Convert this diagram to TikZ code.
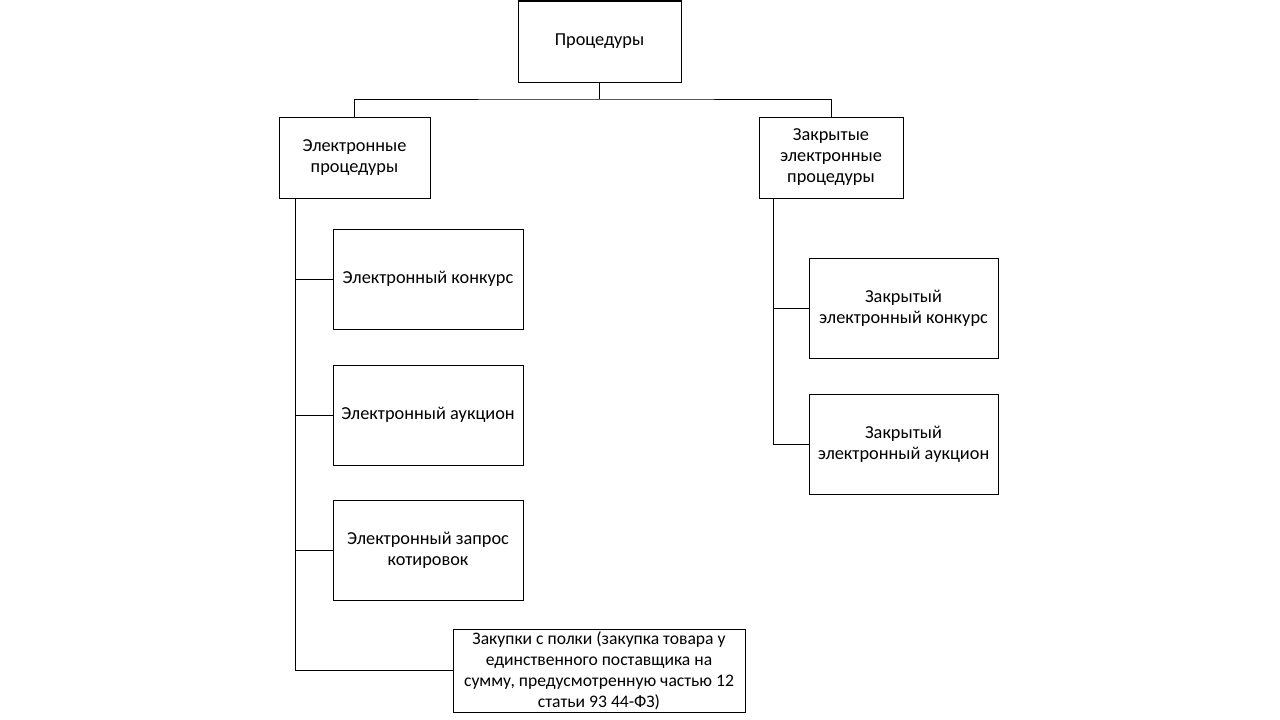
\documentclass[tikz,border=0pt]{standalone}
\usepackage{fontspec}
\setmainfont{Carlito}
\begin{document}
\begin{tikzpicture}[x=1pt,y=-1pt]
\tikzstyle{every node}+=[inner sep=0pt, font=\fontsize{18.3}{21}\selectfont]
\tikzstyle{box}=[draw=black, line width=1pt, align=center]
\useasboundingbox (0,0) rectangle (1280,720);
% top level
\node [box, minimum width=163, minimum height=81] (proc) at (599.5,41.5) {Процедуры};
\node [box, minimum width=151, minimum height=81] (el) at (354.5,157.5) {Электронные\\процедуры};
\node [box, minimum width=144, minimum height=81] (zel) at (831,157.5) {Закрытые\\электронные\\процедуры};
% left branch
\node [box, minimum width=190, minimum height=100] (ek) at (428,279) {Электронный конкурс};
\node [box, minimum width=190, minimum height=100] (ea) at (428,415) {Электронный аукцион};
\node [box, minimum width=190, minimum height=100] (ez) at (428,550) {Электронный запрос\\котировок};
\node [box, minimum width=292, minimum height=83, font=\fontsize{17.6}{21}\selectfont] (zak) at (599,670.5) {Закупки с полки (закупка товара у\\единственного поставщика на\\сумму, предусмотренную частью 12\\статьи 93 44-ФЗ)};
% right branch
\node [box, minimum width=189, minimum height=100] (zk) at (903.5,308) {Закрытый\\электронный конкурс};
\node [box, minimum width=189, minimum height=100] (za) at (903.5,444) {Закрытый\\электронный аукцион};
% connectors
\coordinate (split) at (proc.south |- 0,99);
\draw [line width=1pt] (proc.south) -- (split);
\draw [line width=1pt] (el.north) |- (split) -| (zel.north);
\draw [line width=1pt] ([xshift=-59.5]el.south) |- (ek.west);
\draw [line width=1pt] ([xshift=-59.5]el.south) |- (ea.west);
\draw [line width=1pt] ([xshift=-59.5]el.south) |- (ez.west);
\draw [line width=1pt] ([xshift=-59.5]el.south) |- (zak.west);
\draw [line width=1pt] ([xshift=-58]zel.south) |- (zk.west);
\draw [line width=1pt] ([xshift=-58]zel.south) |- (za.west);
\end{tikzpicture}
\end{document}
